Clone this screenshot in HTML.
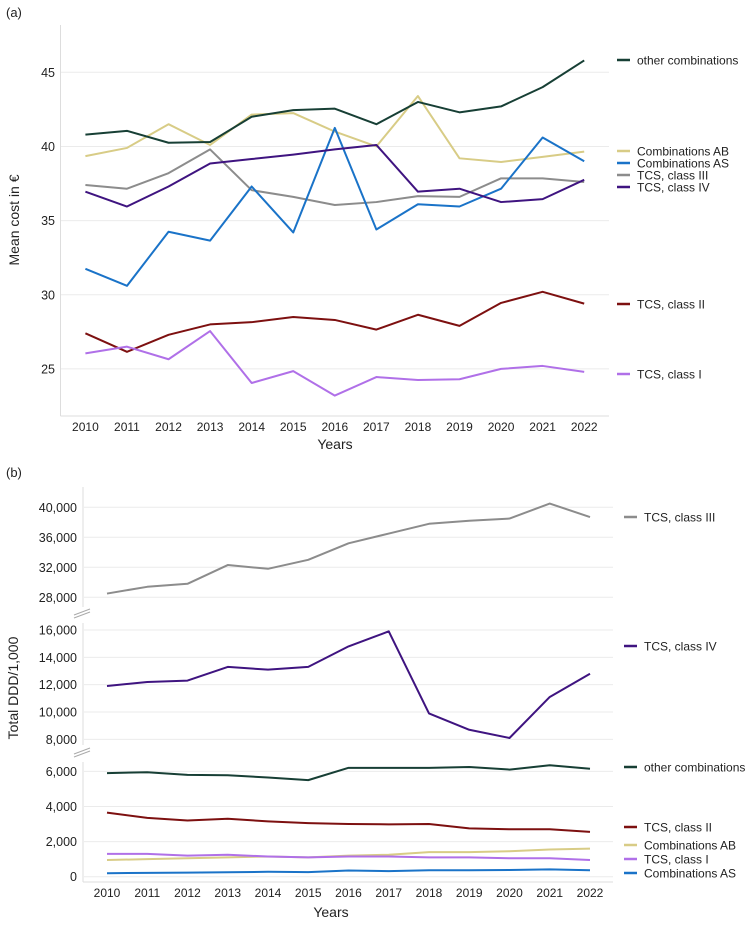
<!DOCTYPE html>
<html><head><meta charset="utf-8"><style>
body{margin:0;background:#fff;font-family:"Liberation Sans",sans-serif;}
svg text{font-family:"Liberation Sans",sans-serif;fill:#222;}
</style></head><body>
<svg id="c" width="753" height="925" xmlns="http://www.w3.org/2000/svg"></svg>
<script>
const years=[2010,2011,2012,2013,2014,2015,2016,2017,2018,2019,2020,2021,2022];
const aOther=[40.8,41.05,40.25,40.3,42.0,42.45,42.55,41.5,43.0,42.3,42.7,44.0,45.8];
const aAB=[39.35,39.9,41.5,40.1,42.15,42.25,41.0,40.0,43.4,39.2,38.95,39.3,39.65];
const aAS=[31.75,30.6,34.25,33.65,37.3,34.2,41.25,34.4,36.1,35.95,37.15,40.6,39.0];
const aIII=[37.4,37.15,38.2,39.8,37.05,36.6,36.05,36.25,36.65,36.6,37.85,37.85,37.6];
const aIV=[36.95,35.95,37.3,38.85,39.15,39.45,39.8,40.1,36.95,37.15,36.25,36.45,37.75];
const aII=[27.4,26.15,27.3,28.0,28.15,28.5,28.3,27.65,28.65,27.9,29.45,30.2,29.4];
const aI=[26.05,26.5,25.65,27.55,24.05,24.85,23.2,24.45,24.25,24.3,25.0,25.2,24.8];
const aTicks=[25,30,35,40,45];
const bIII=[28500,29400,29800,32300,31800,33000,35200,36500,37800,38200,38500,40500,38700];
const bIV=[11900,12200,12300,13300,13100,13300,14800,15900,9900,8700,8100,11100,12800];
const bOther=[5900,5950,5800,5780,5650,5500,6200,6200,6200,6250,6100,6350,6150];
const bII=[3650,3350,3200,3300,3150,3050,3000,2980,3000,2750,2700,2700,2550];
const bAB=[950,1000,1050,1100,1150,1100,1200,1250,1400,1400,1450,1550,1600];
const bI=[1300,1300,1200,1250,1150,1100,1150,1150,1100,1100,1050,1050,950];
const bAS=[200,220,230,250,280,260,350,320,370,370,380,420,370];
const bTicksTop=[28000,32000,36000,40000];
const bTicksMid=[8000,10000,12000,14000,16000];
const bTicksBot=[0,2000,4000,6000];
const C={other:"#173f35",AB:"#d8cc86",AS:"#1a73c8",III:"#8c8c8c",IV:"#3f1480",II:"#7d1010",I:"#b070e8"};
const svg=document.getElementById('c');
const NS="http://www.w3.org/2000/svg";
function el(t,a,txt){const e=document.createElementNS(NS,t);for(const k in a)e.setAttribute(k,a[k]);if(txt!==undefined)e.textContent=txt;svg.appendChild(e);return e;}
function poly(xs,ys,vals,col,name){
  const p=el('polyline',{points:vals.map((v,i)=>xs(years[i])+','+ys(v)).join(' '),fill:'none',stroke:col,'stroke-width':2,'stroke-linejoin':'round'});
  
  
}
function legend(x,y,col,label,name){
  const l=el('line',{x1:x,x2:x+13,y1:y,y2:y,stroke:col,'stroke-width':2.5});
  
  
  const t=el('text',{x:x+20,y:y+4.5,'font-size':12},label);
  
  
}
const ax=y=>85.4+(y-2010)*(584.2-85.4)/12;
const ayy=v=>72.3+(45-v)*14.83;
el('text',{x:6,y:17,'font-size':13},'(a)');
aTicks.forEach(t=>{
  const g=el('line',{x1:61,x2:609,y1:ayy(t),y2:ayy(t),stroke:'#ebebeb','stroke-width':1});
  
  const tx=el('text',{x:55,y:ayy(t)+4.5,'font-size':12.5,'text-anchor':'end'},t);
  
});
el('line',{x1:60.5,x2:60.5,y1:25,y2:416,stroke:'#ddd'});
el('line',{x1:60.5,x2:609,y1:416,y2:416,stroke:'#ddd'});
years.forEach(y=>{const t=el('text',{x:ax(y),y:431,'font-size':12,'text-anchor':'middle'},y);});
el('text',{x:335,y:449,'font-size':14,'text-anchor':'middle'},'Years');
el('text',{x:0,y:0,'font-size':14,'text-anchor':'middle',transform:'translate(19,220) rotate(-90)'},'Mean cost in €');
poly(ax,ayy,aIII,C.III,'line-a-tcs-iii');
poly(ax,ayy,aAB,C.AB,'line-a-comb-ab');
poly(ax,ayy,aAS,C.AS,'line-a-comb-as');
poly(ax,ayy,aIV,C.IV,'line-a-tcs-iv');
poly(ax,ayy,aOther,C.other,'line-a-other');
poly(ax,ayy,aII,C.II,'line-a-tcs-ii');
poly(ax,ayy,aI,C.I,'line-a-tcs-i');
legend(617,60,C.other,'other combinations','legend-a-other');
legend(617,151,C.AB,'Combinations AB','legend-a-ab');
legend(617,163,C.AS,'Combinations AS','legend-a-as');
legend(617,175,C.III,'TCS, class III','legend-a-iii');
legend(617,187,C.IV,'TCS, class IV','legend-a-iv');
legend(617,304,C.II,'TCS, class II','legend-a-ii');
legend(617,374,C.I,'TCS, class I','legend-a-i');
const bx=y=>107+(y-2010)*(590-107)/12;
const yTop=v=>507.3+(40000-v)*7.5/1000;
const yMid=v=>630+(16000-v)*13.67/1000;
const yBot=v=>876.7-v*17.56/1000;
el('text',{x:6,y:477,'font-size':13},'(b)');
function grid(ticks,f,name){ticks.forEach(t=>{
  const g=el('line',{x1:84,x2:613,y1:f(t),y2:f(t),stroke:'#ebebeb'});
  const tx=el('text',{x:77,y:f(t)+4.5,'font-size':12.5,'text-anchor':'end'},t.toLocaleString('en-US'));
});}
grid(bTicksTop,yTop,'b-top');grid(bTicksMid,yMid,'b-mid');grid(bTicksBot,yBot,'b-bot');
el('line',{x1:83,x2:83,y1:487,y2:607,stroke:'#ddd'});
el('line',{x1:83,x2:83,y1:623,y2:745,stroke:'#ddd'});
el('line',{x1:83,x2:83,y1:762,y2:882,stroke:'#ddd'});
el('line',{x1:83,x2:613,y1:882,y2:882,stroke:'#ddd'});
[612,751].forEach(y=>{el('line',{x1:74,x2:90,y1:y+3,y2:y-3,stroke:'#aaa'});el('line',{x1:74,x2:90,y1:y+6,y2:y,stroke:'#aaa'});});
years.forEach(y=>{const t=el('text',{x:bx(y),y:897,'font-size':12,'text-anchor':'middle'},y);});
el('text',{x:331,y:917,'font-size':14,'text-anchor':'middle'},'Years');
el('text',{x:0,y:0,'font-size':14,'text-anchor':'middle',transform:'translate(18,688) rotate(-90)'},'Total DDD/1,000');
poly(bx,yTop,bIII,C.III,'line-b-tcs-iii');
poly(bx,yMid,bIV,C.IV,'line-b-tcs-iv');
poly(bx,yBot,bOther,C.other,'line-b-other');
poly(bx,yBot,bII,C.II,'line-b-tcs-ii');
poly(bx,yBot,bAB,C.AB,'line-b-comb-ab');
poly(bx,yBot,bI,C.I,'line-b-tcs-i');
poly(bx,yBot,bAS,C.AS,'line-b-comb-as');
legend(624,517,C.III,'TCS, class III','legend-b-iii');
legend(624,646,C.IV,'TCS, class IV','legend-b-iv');
legend(624,767,C.other,'other combinations','legend-b-other');
legend(624,827,C.II,'TCS, class II','legend-b-ii');
legend(624,845,C.AB,'Combinations AB','legend-b-ab');
legend(624,859,C.I,'TCS, class I','legend-b-i');
legend(624,873,C.AS,'Combinations AS','legend-b-as');
</script>
</body></html>
